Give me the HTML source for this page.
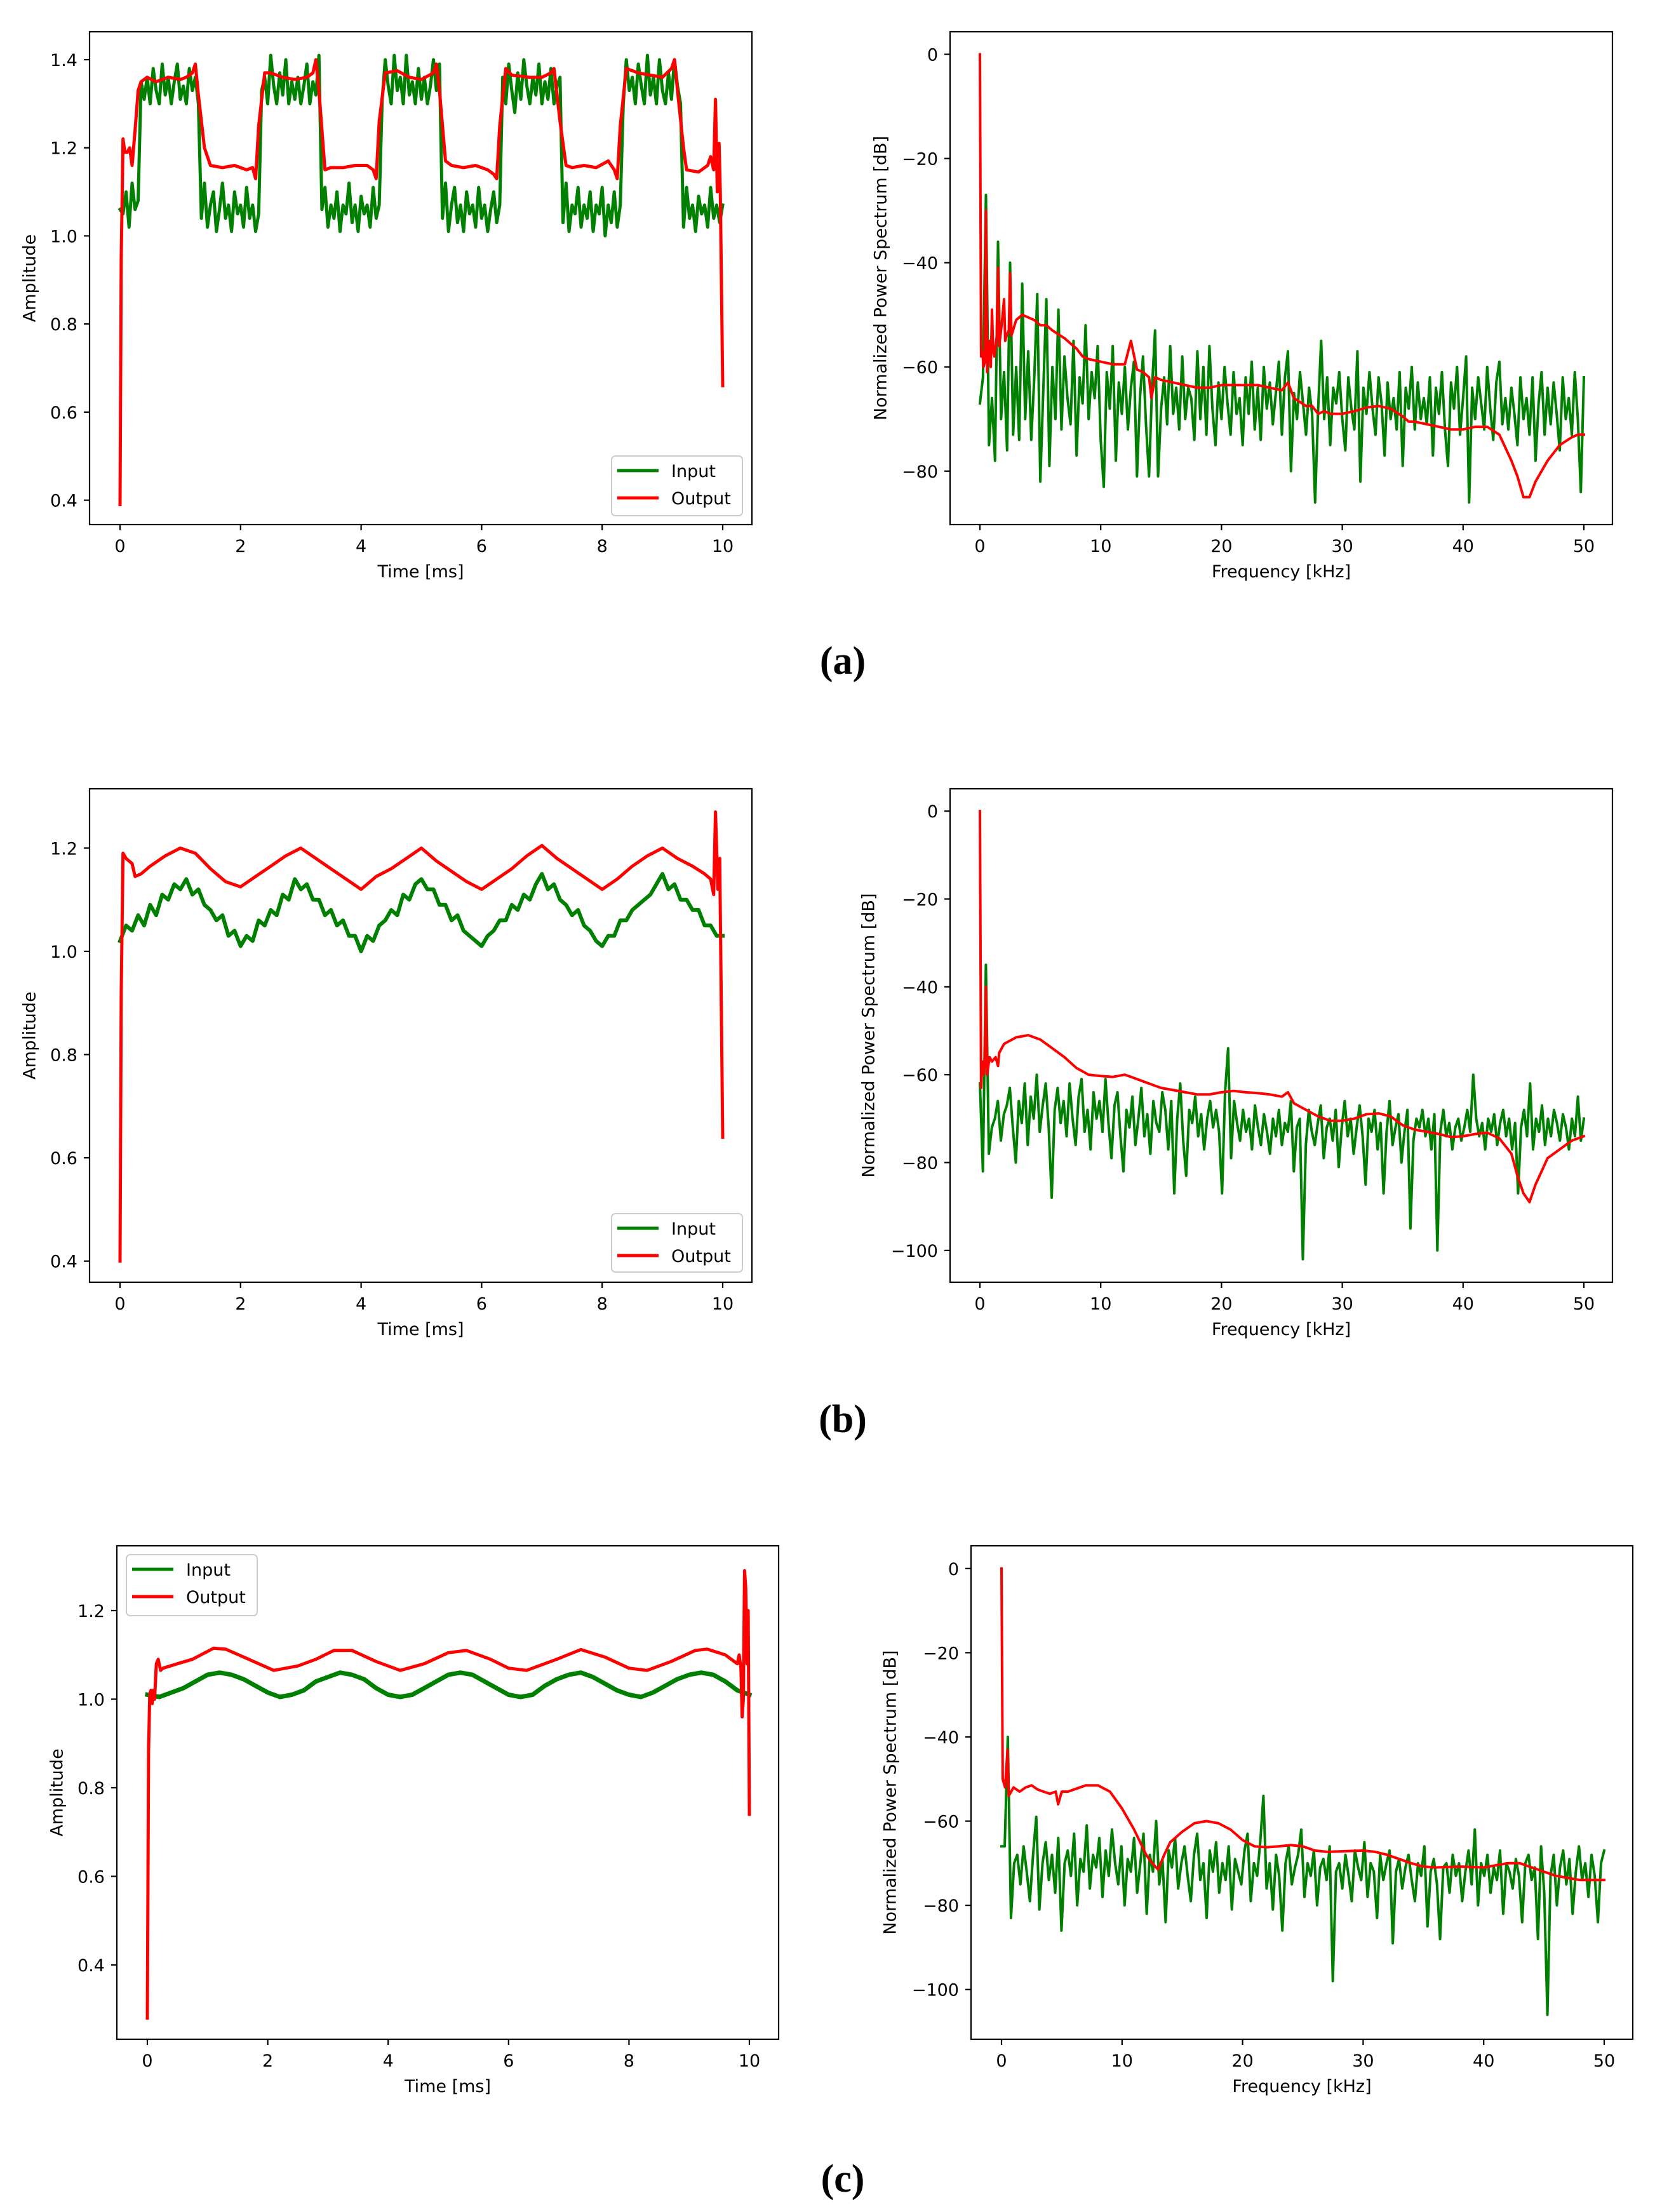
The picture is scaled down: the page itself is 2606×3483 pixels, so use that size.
<!DOCTYPE html>
<html><head><meta charset="utf-8"><style>
html,body{margin:0;padding:0;background:#fff;}
svg{display:block;}
text{font-family:"DejaVu Sans","Liberation Sans",sans-serif;fill:#000;}
.cap{font-family:"Liberation Serif",serif;font-weight:bold;}
</style></head><body>
<svg id="fig" xmlns="http://www.w3.org/2000/svg" width="2606" height="3483" viewBox="0 0 2606 3483">
<rect width="2606" height="3483" fill="#fff"/>
<text class="cap" x="1327" y="1061" font-size="62" text-anchor="middle">(a)</text>
<text class="cap" x="1327" y="2255" font-size="62" text-anchor="middle">(b)</text>
<text class="cap" x="1327" y="3451" font-size="62" text-anchor="middle">(c)</text>
</svg>
<script>
// ---------- time-domain data ----------
const inA_step = 0.05;
const inA = [1.06,1.05,1.10,1.02,1.12,1.06,1.08,
1.35,1.31,1.36,1.30,1.38,1.33,1.30,1.39,1.32,1.36,1.30,1.35,1.39,1.31,1.34,1.30,1.38,1.33,1.36,1.30,
1.04,1.12,1.02,1.07,1.10,1.01,1.06,1.12,1.04,1.07,1.01,1.10,1.05,1.07,1.02,1.11,1.04,1.07,1.01,1.05,
1.33,1.36,1.30,1.41,1.34,1.30,1.37,1.32,1.40,1.30,1.35,1.31,1.36,1.30,1.34,1.39,1.30,1.35,1.32,1.41,
1.06,1.11,1.02,1.07,1.04,1.10,1.01,1.07,1.05,1.12,1.03,1.07,1.01,1.09,1.05,1.07,1.02,1.11,1.04,1.07,
1.31,1.40,1.34,1.30,1.41,1.33,1.36,1.30,1.41,1.32,1.35,1.30,1.38,1.31,1.36,1.30,1.34,1.40,1.33,1.39,
1.04,1.12,1.01,1.07,1.11,1.03,1.07,1.01,1.10,1.05,1.07,1.02,1.11,1.04,1.07,1.01,1.06,1.10,1.03,1.07,
1.36,1.30,1.39,1.33,1.28,1.37,1.31,1.40,1.34,1.30,1.36,1.32,1.39,1.30,1.35,1.31,1.38,1.30,1.34,1.36,
1.03,1.12,1.01,1.07,1.05,1.11,1.02,1.07,1.04,1.10,1.01,1.07,1.05,1.11,1.00,1.07,1.03,1.10,1.02,1.07,
1.30,1.40,1.33,1.36,1.30,1.39,1.34,1.30,1.41,1.32,1.36,1.30,1.40,1.33,1.30,1.37,1.31,1.40,1.34,1.30,
1.02,1.11,1.04,1.07,1.01,1.09,1.05,1.07,1.02,1.11,1.04,1.07,1.03,1.07];
const outA_t = [0,0.02,0.05,0.08,0.12,0.16,0.2,0.25,0.3,0.35,0.45,0.6,0.8,1.0,1.1,1.2,1.25,1.3,1.4,1.5,1.7,1.9,2.1,2.2,2.25,2.3,2.4,2.5,2.7,2.9,3.1,3.2,3.25,3.3,3.4,3.5,3.7,3.9,4.1,4.2,4.25,4.3,4.4,4.6,4.8,5.0,5.2,5.25,5.3,5.4,5.5,5.7,5.9,6.1,6.2,6.25,6.3,6.4,6.5,6.8,7.0,7.15,7.2,7.3,7.4,7.5,7.7,7.9,8.1,8.2,8.25,8.3,8.4,8.6,8.8,9.0,9.15,9.2,9.25,9.35,9.4,9.6,9.75,9.8,9.85,9.88,9.91,9.94,9.96,10.0];
const outA_v = [0.39,0.95,1.22,1.19,1.19,1.20,1.16,1.24,1.33,1.35,1.36,1.35,1.36,1.355,1.36,1.37,1.39,1.32,1.20,1.16,1.155,1.16,1.15,1.155,1.13,1.25,1.37,1.37,1.36,1.355,1.36,1.37,1.40,1.33,1.15,1.155,1.155,1.16,1.16,1.15,1.13,1.26,1.37,1.375,1.36,1.355,1.37,1.39,1.33,1.17,1.16,1.155,1.16,1.15,1.14,1.13,1.25,1.38,1.365,1.36,1.36,1.37,1.38,1.26,1.16,1.155,1.16,1.155,1.17,1.15,1.13,1.25,1.38,1.37,1.365,1.36,1.38,1.40,1.33,1.20,1.15,1.145,1.16,1.18,1.15,1.31,1.10,1.21,1.10,0.66];

const inB_step = 0.1;
const inB = [1.02,1.05,1.04,1.07,1.05,1.09,1.07,1.11,1.10,1.13,1.12,1.14,1.11,1.12,1.09,1.08,1.06,1.07,1.03,1.04,1.01,1.03,1.02,1.06,1.05,1.08,1.07,1.11,1.10,1.14,1.12,1.13,1.10,1.10,1.07,1.08,1.05,1.06,1.03,1.03,1.00,1.03,1.02,1.05,1.06,1.08,1.07,1.11,1.10,1.13,1.14,1.12,1.12,1.09,1.09,1.06,1.07,1.04,1.03,1.02,1.01,1.03,1.04,1.06,1.06,1.09,1.08,1.11,1.10,1.13,1.15,1.12,1.13,1.10,1.09,1.07,1.08,1.05,1.04,1.02,1.01,1.03,1.03,1.06,1.06,1.08,1.09,1.10,1.11,1.13,1.15,1.12,1.13,1.10,1.10,1.08,1.08,1.05,1.05,1.03,1.03];
const outB_t = [0,0.02,0.05,0.1,0.15,0.2,0.25,0.35,0.5,0.75,1.0,1.25,1.5,1.75,2.0,2.25,2.5,2.75,3.0,3.25,3.5,3.75,4.0,4.25,4.5,4.75,5.0,5.25,5.5,5.75,6.0,6.25,6.5,6.75,7.0,7.25,7.5,7.75,8.0,8.25,8.5,8.75,9.0,9.25,9.5,9.7,9.8,9.85,9.88,9.92,9.95,10.0];
const outB_v = [0.40,0.92,1.19,1.18,1.175,1.17,1.145,1.15,1.165,1.185,1.20,1.19,1.16,1.135,1.125,1.145,1.165,1.185,1.20,1.18,1.16,1.14,1.12,1.145,1.16,1.18,1.20,1.175,1.155,1.135,1.12,1.14,1.16,1.185,1.205,1.18,1.16,1.14,1.12,1.14,1.165,1.185,1.20,1.18,1.165,1.15,1.14,1.11,1.27,1.12,1.18,0.64];

const inC_step = 0.2;
const inC = [1.01,1.005,1.015,1.025,1.04,1.055,1.06,1.055,1.045,1.03,1.015,1.005,1.01,1.02,1.04,1.05,1.06,1.055,1.045,1.025,1.01,1.005,1.01,1.025,1.04,1.055,1.06,1.055,1.04,1.025,1.01,1.005,1.01,1.03,1.045,1.055,1.06,1.05,1.035,1.02,1.01,1.005,1.015,1.03,1.045,1.055,1.06,1.055,1.04,1.02,1.01];
const outC_t = [0,0.02,0.04,0.06,0.08,0.1,0.12,0.15,0.18,0.22,0.26,0.5,0.75,1.1,1.3,1.6,2.1,2.5,2.8,3.1,3.4,3.8,4.2,4.6,5.0,5.3,5.7,6.0,6.3,6.8,7.2,7.6,8.0,8.3,8.7,9.1,9.3,9.6,9.8,9.83,9.86,9.88,9.9,9.92,9.94,9.96,9.98,10.0];
const outC_v = [0.28,0.88,1.01,1.02,0.99,1.02,1.00,1.08,1.09,1.065,1.07,1.08,1.09,1.115,1.113,1.095,1.065,1.075,1.09,1.11,1.11,1.085,1.065,1.08,1.105,1.11,1.09,1.07,1.065,1.09,1.112,1.095,1.07,1.065,1.085,1.11,1.113,1.10,1.08,1.10,1.07,0.96,1.00,1.29,1.25,1.08,1.20,0.74];

// ---------- spectra data (dB) ----------
const specMaxF = 50;
const specInA = [-67,-62,-27,-75,-66,-78,-36,-70,-61,-76,-40,-73,-60,-74,-44,-70,-57,-74,-62,-46,-82,-64,-47,-79,-60,-70,-49,-72,-58,-66,-71,-55,-77,-62,-67,-52,-70,-61,-66,-56,-74,-83,-61,-68,-56,-78,-63,-69,-60,-72,-64,-59,-81,-66,-58,-71,-81,-64,-53,-81,-68,-62,-71,-56,-69,-64,-72,-58,-70,-64,-66,-74,-57,-70,-60,-73,-56,-68,-75,-63,-70,-60,-67,-73,-61,-69,-66,-75,-62,-69,-59,-72,-64,-74,-60,-68,-63,-71,-65,-59,-73,-62,-57,-80,-65,-70,-61,-67,-73,-64,-69,-86,-68,-55,-70,-62,-75,-64,-67,-61,-70,-76,-62,-68,-72,-57,-82,-64,-69,-61,-68,-73,-62,-67,-77,-63,-70,-66,-72,-61,-79,-64,-68,-60,-72,-63,-70,-66,-71,-62,-77,-64,-69,-61,-72,-79,-63,-68,-60,-73,-66,-58,-86,-64,-70,-62,-67,-72,-60,-68,-74,-63,-59,-71,-66,-72,-64,-69,-75,-62,-70,-66,-73,-62,-78,-67,-61,-73,-64,-71,-63,-69,-76,-62,-70,-66,-73,-61,-70,-84,-62];
const specOutA_f = [0,0.1,0.2,0.3,0.4,0.5,0.6,0.7,0.8,0.9,1.0,1.1,1.2,1.4,1.5,1.6,1.8,2.0,2.1,2.2,2.4,2.5,2.6,3,3.5,4,4.5,5,5.5,6,7,7.5,8,8.5,9,10,11,11.5,12,12.5,13,13.5,14,14.2,14.5,15,16,17,18,19,20,21,22,23,24,25,25.5,26,27,27.5,28,28.5,29,30,31,32,33,34,35,35.5,36,37,38,39,40,41,42,43,44,44.5,45,45.5,46,46.5,47,48,49,49.5,50];
const specOutA_v = [0,-58,-57,-60,-59,-30,-61,-57,-55,-60,-49,-57,-58,-54,-41,-56,-52,-47,-55,-54,-53,-42,-54,-51,-50,-50.5,-51,-52,-52,-53,-54.5,-55.5,-56.5,-58,-58.5,-59,-59.5,-59.5,-59.5,-55,-60.5,-61,-62,-66,-62,-62.5,-63,-63.5,-64,-64,-63.5,-63.5,-63.5,-63.5,-64,-64.5,-63,-66,-67.5,-67.5,-69,-68.5,-69,-69,-68.5,-67.8,-67.5,-68,-69.5,-70.5,-70.5,-71,-71.5,-72,-72,-71.5,-71.5,-73,-78,-81,-85,-85,-82,-80,-78,-75,-73.5,-73,-73];

const specInB = [-62,-82,-35,-78,-72,-70,-66,-75,-69,-67,-63,-72,-80,-66,-71,-62,-76,-65,-70,-60,-73,-67,-62,-72,-88,-68,-63,-71,-66,-74,-62,-70,-76,-65,-61,-73,-68,-77,-64,-70,-66,-73,-61,-71,-79,-67,-64,-74,-82,-68,-72,-65,-76,-70,-63,-74,-69,-78,-66,-71,-73,-64,-68,-77,-66,-87,-70,-62,-75,-83,-68,-71,-65,-74,-69,-77,-70,-66,-72,-68,-73,-87,-64,-54,-79,-66,-71,-75,-68,-73,-70,-77,-67,-72,-76,-69,-73,-78,-70,-74,-68,-76,-71,-73,-66,-82,-72,-70,-102,-76,-68,-73,-76,-71,-67,-79,-72,-70,-75,-68,-81,-72,-66,-74,-70,-78,-72,-67,-74,-85,-70,-73,-68,-77,-71,-87,-73,-66,-76,-72,-69,-80,-73,-68,-95,-75,-70,-72,-68,-74,-70,-77,-69,-100,-73,-68,-74,-71,-77,-72,-70,-75,-72,-68,-73,-60,-70,-74,-71,-77,-70,-73,-69,-76,-71,-68,-74,-70,-77,-71,-87,-72,-68,-74,-62,-77,-70,-73,-67,-76,-70,-74,-68,-71,-75,-69,-72,-77,-70,-74,-65,-75,-70];
const specOutB_f = [0,0.1,0.2,0.3,0.4,0.5,0.6,0.8,1.0,1.3,1.5,1.6,2,3,4,5,6,7,8,9,10,11,12,13,14,15,16,17,18,19,20,21,22,23,24,25,25.5,26,27,28,29,30,31,32,33,34,35,36,37,38,39,40,41,42,43,44,44.5,45,45.5,46,46.5,47,48,49,50];
const specOutB_v = [0,-63,-57,-60,-58,-40,-60,-56,-57,-56,-58,-55,-53,-51.5,-51,-52,-54,-56,-58.5,-60,-60.3,-60.5,-60,-61,-62,-63,-63.5,-64,-64.5,-64.5,-64,-63.7,-64,-64.2,-64.5,-65,-64,-66.5,-68,-69.5,-70.5,-70.5,-70,-69,-68.8,-69.5,-71.5,-72.5,-73,-73.5,-74.2,-74,-73.5,-73.2,-74.5,-78,-83,-87,-89,-85,-82,-79,-77,-75,-74];

const specInC = [-66,-66,-40,-83,-70,-68,-75,-66,-72,-79,-68,-59,-81,-70,-65,-74,-68,-77,-64,-86,-70,-67,-73,-63,-80,-69,-72,-61,-76,-68,-71,-64,-78,-67,-73,-62,-70,-75,-66,-80,-69,-72,-64,-77,-70,-63,-82,-68,-72,-60,-75,-69,-84,-67,-71,-64,-76,-70,-66,-73,-79,-68,-63,-74,-70,-83,-67,-72,-65,-77,-70,-74,-66,-81,-69,-72,-75,-67,-63,-79,-70,-73,-65,-54,-76,-70,-81,-68,-73,-86,-70,-66,-75,-71,-68,-62,-78,-70,-73,-67,-80,-71,-69,-74,-66,-98,-72,-70,-76,-68,-73,-79,-67,-71,-74,-65,-78,-70,-72,-83,-68,-74,-70,-67,-89,-72,-69,-76,-71,-68,-74,-79,-70,-73,-66,-85,-72,-69,-75,-88,-71,-70,-77,-68,-73,-70,-79,-72,-67,-75,-62,-80,-70,-73,-68,-77,-71,-74,-67,-82,-70,-72,-76,-69,-73,-84,-70,-68,-74,-71,-88,-66,-77,-106,-73,-68,-80,-71,-67,-75,-69,-82,-72,-66,-74,-70,-78,-68,-73,-84,-70,-67];
const specOutC_f = [0,0.1,0.3,0.5,0.6,1,1.5,2,2.5,3,3.5,4,4.5,4.7,5,5.5,6,7,8,9,10,11,12,12.5,13,13.5,14,15,16,17,18,19,20,21,22,23,24,25,26,27,28,30,31,32,33,34,35,36,38,40,41,42,43,44,45,46,47,48,50];
const specOutC_v = [0,-50,-52,-43,-54,-52,-53,-52,-51.5,-52.5,-53,-53.5,-53,-56,-53,-53,-52.5,-51.5,-51.5,-53,-57,-62,-68,-70,-71.5,-68,-65,-62.5,-60.5,-60,-60.5,-62,-64.5,-66,-66.2,-66,-65.7,-66,-67,-67.3,-67.2,-67,-67.3,-68,-69,-70,-70.8,-71,-70.8,-71,-70.5,-70,-70,-71,-72,-73,-73.5,-74,-74];

// tick labels
const timeTicks = [0,2,4,6,8,10];
const freqTicks = [0,10,20,30,40,50];
const ampTicksA = [0.4,0.6,0.8,1.0,1.2,1.4];
const ampTicksBC = [0.4,0.6,0.8,1.0,1.2];
const dbTicksA = [0,-20,-40,-60,-80];
const dbTicksBC = [0,-20,-40,-60,-80,-100];
const legendLabels = ["Input","Output"];

const NS = "http://www.w3.org/2000/svg";
const fig = document.getElementById('fig');
function mk(tag, attrs, parent){ const e=document.createElementNS(NS,tag); for(const k in attrs) e.setAttribute(k,attrs[k]); (parent||fig).appendChild(e); return e; }
function lin(d0,p0,d1,p1){ return v => p0 + (v-d0)*(p1-p0)/(d1-d0); }
function fmt(v, dec){ let s = v.toFixed(dec); if (v<0) s = "\u2212"+s.slice(1); return s; }
function idxX(arr, step){ return arr.map((_,i)=>i*step); }
function specX(arr){ return arr.map((_,i)=>i*specMaxF/(arr.length-1)); }

let clipN = 0;
function panel(o){
  const g = mk('g',{});
  
  
  const sx = lin(o.xm[0],o.xm[1],o.xm[2],o.xm[3]);
  const sy = lin(o.ym[0],o.ym[1],o.ym[2],o.ym[3]);
  const cid = 'clip'+(clipN++);
  const cp = mk('clipPath',{id:cid},g);
  mk('rect',{x:o.x0,y:o.y0,width:o.x1-o.x0,height:o.y1-o.y0},cp);
  const plot = mk('g',{'clip-path':'url(#'+cid+')'},g);
  o.series.forEach(s=>{
    let d='';
    const n=Math.min(s.x.length,s.y.length);
    for(let i=0;i<n;i++) d += (i?'L':'M')+sx(s.x[i]).toFixed(1)+','+sy(s.y[i]).toFixed(1);
    const p = mk('path',{d:d,fill:'none',stroke:s.c,'stroke-width':s.w,'stroke-linejoin':'round','stroke-linecap':'square'},plot);
    
    
  });
  const fr = mk('rect',{x:o.x0,y:o.y0,width:o.x1-o.x0,height:o.y1-o.y0,fill:'none',stroke:'#000','stroke-width':2.2},g);
  
  
  o.xt.forEach(v=>{
    const x=sx(v);
    mk('line',{x1:x,x2:x,y1:o.y1,y2:o.y1+9,stroke:'#000','stroke-width':2.2},g);
    const t=mk('text',{x:x,y:o.y1+43,'font-size':27,'text-anchor':'middle'},g);
    t.textContent=fmt(v,0);
    
    
  });
  o.yt.forEach(v=>{
    const y=sy(v);
    mk('line',{x1:o.x0-9,x2:o.x0,y1:y,y2:y,stroke:'#000','stroke-width':2.2},g);
    const t=mk('text',{x:o.x0-19,y:y+10,'font-size':27,'text-anchor':'end'},g);
    t.textContent=fmt(v,o.ydec);
    
    
  });
  const xl=mk('text',{x:(o.x0+o.x1)/2,y:o.y1+83,'font-size':27,'text-anchor':'middle'},g);
  xl.textContent=o.xlabel;
  
  
  const yc=(o.y0+o.y1)/2;
  const yl=mk('text',{x:o.ylx,y:yc,'font-size':27,'text-anchor':'middle',transform:'rotate(-90 '+o.ylx+' '+yc+')','dominant-baseline':'central'},g);
  yl.textContent=o.ylabel;
  
  
  if(o.leg){
    const L=o.leg;
    const lg=mk('g',{},g);
    
    
    mk('rect',{x:L.x,y:L.y,width:L.w,height:L.h,rx:6,fill:'#fff','fill-opacity':0.8,stroke:'#cccccc','stroke-width':2},lg);
    const cols=['#008000','#ff0000'];
    legendLabels.forEach((lab,i)=>{
      const ly=L.y+23+i*43;
      mk('line',{x1:L.x+9,x2:L.x+74,y1:ly,y2:ly,stroke:cols[i],'stroke-width':5},lg);
      const t=mk('text',{x:L.x+94,y:ly+10,'font-size':27},lg);
      t.textContent=lab;
      
      
    });
  }
}
const G='#008000', R='#ff0000';
panel({name:'panel-a-time',x0:141,x1:1184,y0:50,y1:826,xm:[0,189,10,1138],ym:[1.4,94,0.4,787.6],xt:timeTicks,yt:ampTicksA,ydec:1,
  xlabel:'Time [ms]',ylabel:'Amplitude',ylx:47,
  series:[{x:idxX(inA,inA_step),y:inA,c:G,w:5,name:'input-line'},{x:outA_t,y:outA_v,c:R,w:5,name:'output-line'}],
  leg:{x:963,y:718,w:206,h:94}});
panel({name:'panel-a-spectrum',x0:1496,x1:2539,y0:50,y1:826,xm:[0,1543,50,2494],ym:[0,85.5,-80,741.8],xt:freqTicks,yt:dbTicksA,ydec:0,
  xlabel:'Frequency [kHz]',ylabel:'Normalized Power Spectrum [dB]',ylx:1387,
  series:[{x:specX(specInA),y:specInA,c:G,w:4,name:'input-spectrum'},{x:specOutA_f,y:specOutA_v,c:R,w:4,name:'output-spectrum'}]});
panel({name:'panel-b-time',x0:141,x1:1184,y0:1242,y1:2019,xm:[0,189,10,1138],ym:[1.2,1335.4,0.4,1985.7],xt:timeTicks,yt:ampTicksBC,ydec:1,
  xlabel:'Time [ms]',ylabel:'Amplitude',ylx:47,
  series:[{x:idxX(inB,inB_step),y:inB,c:G,w:6,name:'input-line'},{x:outB_t,y:outB_v,c:R,w:5,name:'output-line'}],
  leg:{x:963,y:1911,w:206,h:92}});
panel({name:'panel-b-spectrum',x0:1496,x1:2539,y0:1242,y1:2019,xm:[0,1543,50,2494],ym:[0,1277.2,-100,1968.9],xt:freqTicks,yt:dbTicksBC,ydec:0,
  xlabel:'Frequency [kHz]',ylabel:'Normalized Power Spectrum [dB]',ylx:1368,
  series:[{x:specX(specInB),y:specInB,c:G,w:4,name:'input-spectrum'},{x:specOutB_f,y:specOutB_v,c:R,w:4,name:'output-spectrum'}]});
panel({name:'panel-c-time',x0:184,x1:1226,y0:2434,y1:3211,xm:[0,232,10,1180],ym:[1.2,2536,0.4,3094],xt:timeTicks,yt:ampTicksBC,ydec:1,
  xlabel:'Time [ms]',ylabel:'Amplitude',ylx:90,
  series:[{x:idxX(inC,inC_step),y:inC,c:G,w:7,name:'input-line'},{x:outC_t,y:outC_v,c:R,w:5,name:'output-line'}],
  leg:{x:199,y:2448,w:206,h:96}});
panel({name:'panel-c-spectrum',x0:1529,x1:2571,y0:2434,y1:3211,xm:[0,1577,50,2526],ym:[0,2469.8,-100,3132.7],xt:freqTicks,yt:dbTicksBC,ydec:0,
  xlabel:'Frequency [kHz]',ylabel:'Normalized Power Spectrum [dB]',ylx:1402,
  series:[{x:specX(specInC),y:specInC,c:G,w:4,name:'input-spectrum'},{x:specOutC_f,y:specOutC_v,c:R,w:4,name:'output-spectrum'}]});
</script>
</body></html>
